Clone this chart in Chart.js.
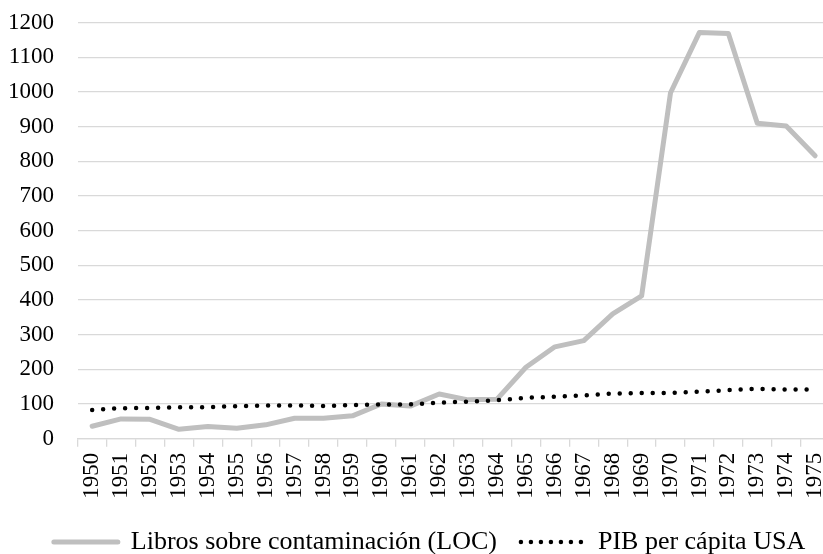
<!DOCTYPE html>
<html>
<head>
<meta charset="utf-8">
<script src="https://cdn.jsdelivr.net/npm/chart.js@4/dist/chart.umd.min.js"></script>
<style>
  html, body { margin: 0; padding: 0; background: #fff; overflow: hidden; }
  #wrap { width: 868px; height: 565px; }
</style>
</head>
<body>
<div id="wrap"><canvas id="chartLibros"></canvas></div>
<script>
// Años (categorías del eje X)
const years = ['1950', '1951', '1952', '1953', '1954', '1955', '1956', '1957', '1958', '1959',
    '1960', '1961', '1962', '1963', '1964', '1965', '1966', '1967', '1968', '1969',
    '1970', '1971', '1972', '1973', '1974', '1975'];

// Libros sobre contaminación (LOC)
const librosLOC = [36, 57, 56, 27, 35, 30, 40, 59, 59, 66,
    100, 94, 129, 112, 114, 206, 265, 283, 360, 412,
    998, 1172, 1169, 910, 902, 816];

// PIB per cápita USA (índice)
const pibUSA = [83, 88, 89, 91, 91, 94, 96, 96, 94, 97,
    99, 99, 104, 107, 111, 118, 121, 125, 130, 132,
    132, 136, 140, 144, 142, 142];

const serif = 'Liberation Serif, Times New Roman, serif';
const gridColor = '#d9d9d9';

// desplaza la leyenda un poco a la derecha, como en el original
const legendShift = {
    id: 'legendShift',
    afterLayout(chart) {
        chart.legend.left += 14.7;
        chart.legend.right += 14.7;
    }
};

const ctx = document.getElementById('chartLibros').getContext('2d');

new Chart(ctx, {
    type: 'line',
    data: {
        labels: years,
        datasets: [{
            label: 'Libros sobre contaminación (LOC)',
            data: librosLOC,
            borderColor: '#bfbfbf',
            backgroundColor: '#bfbfbf',
            borderWidth: 5,
            borderCapStyle: 'round',
            borderJoinStyle: 'round',
            pointRadius: 0,
            tension: 0,
            order: 1
        }, {
            label: 'PIB per cápita USA',
            data: pibUSA,
            borderColor: '#000000',
            backgroundColor: '#000000',
            borderWidth: 4.5,
            borderDash: [0, 11],
            borderCapStyle: 'round',
            pointRadius: 0,
            tension: 0,
            order: 0
        }]
    },
    options: {
        responsive: true,
        maintainAspectRatio: false,
        animation: false,
        events: [],
        layout: {
            padding: { top: 22.7, left: 0, right: 38.4, bottom: 0 }
        },
        plugins: {
            tooltip: { enabled: false },
            legend: {
                position: 'bottom',
                labels: {
                    usePointStyle: true,
                    pointStyleWidth: 64,
                    padding: 24,
                    color: '#000',
                    font: { family: serif, size: 26 },
                    // muestras de línea propias (gris continua y punteada negra)
                    generateLabels: function (chart) {
                        return chart.data.datasets.map((ds, i) => ({
                            text: ds.label,
                            datasetIndex: i,
                            fillStyle: ds.borderColor,
                            strokeStyle: ds.borderColor,
                            lineWidth: ds.borderWidth,
                            lineDash: ds.borderDash ? [0, 10] : [],
                            lineCap: 'round',
                            pointStyle: 'line',
                            fontColor: '#000',
                            hidden: false
                        }));
                    },
                    sort: (a, b) => a.datasetIndex - b.datasetIndex
                }
            }
        },
        scales: {
            x: {
                offset: true,
                afterFit: (scale) => { scale.height = 66.3; },
                border: { display: true, color: gridColor, width: 1.3 },
                grid: {
                    offset: true,
                    drawOnChartArea: false,
                    drawTicks: true,
                    tickLength: 8,
                    color: gridColor,
                    lineWidth: 1.3
                },
                ticks: {
                    autoSkip: false,
                    maxRotation: 90,
                    minRotation: 90,
                    padding: 6,
                    color: '#000',
                    font: { family: serif, size: 23 }
                }
            },
            y: {
                min: 0,
                max: 1200,
                afterFit: (scale) => { scale.width = 77.7; },
                border: { display: false },
                grid: {
                    drawTicks: true,
                    tickLength: 20,
                    tickColor: 'rgba(0,0,0,0)',
                    color: gridColor,
                    lineWidth: 1.3
                },
                ticks: {
                    stepSize: 100,
                    padding: 3.7,
                    color: '#000',
                    font: { family: serif, size: 23, lineHeight: 1 },
                    callback: (value) => String(value)
                }
            }
        }
    },
    plugins: [legendShift]
});
</script>
</body>
</html>
